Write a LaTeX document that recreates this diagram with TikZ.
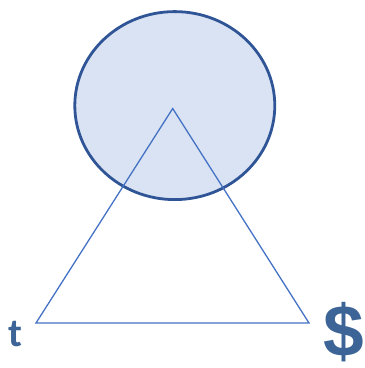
\documentclass[tikz,border=0pt]{standalone}
\usepackage{fontspec}
\setmainfont{Carlito}
\newfontfamily\dollarfont{Liberation Sans}
\definecolor{circfill}{HTML}{DAE3F3}
\definecolor{circline}{HTML}{2F5597}
\definecolor{triline}{HTML}{4472C4}
\definecolor{txtblue}{HTML}{3C6496}
\begin{document}
\begin{tikzpicture}[x=1pt,y=-1pt,
  circstyle/.style={draw=circline,fill=circfill,line width=2.8pt},
  tristyle/.style={draw=triline,line width=1.3pt,line join=miter},
  lbl/.style={text=txtblue,font=\bfseries,inner sep=0pt}]
\useasboundingbox (0,0) rectangle (365,368);
\draw[circstyle] (174.8,105.6) ellipse [x radius=100, y radius=94];
\coordinate (top) at (172.7,108.5);
\coordinate (bl) at (36,323);
\coordinate (br) at (309,323);
\draw[tristyle] (top) -- (bl) -- (br) -- cycle;
\node[lbl,font=\bfseries\fontsize{40}{40}\selectfont,anchor=base] (t) at (15,346) {t};
\node[lbl,font=\dollarfont\bfseries\fontsize{73}{73}\selectfont,anchor=base] (d) at (344,356) {\$};
\end{tikzpicture}
\end{document}
